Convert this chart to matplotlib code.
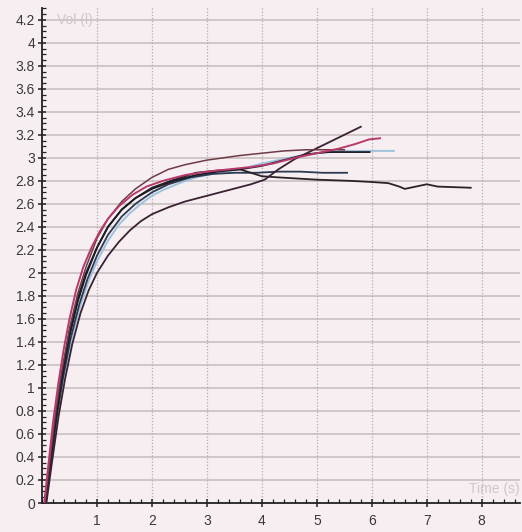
import matplotlib
matplotlib.use("Agg")
import matplotlib.pyplot as plt
from matplotlib.ticker import MultipleLocator

plt.rcParams['font.family'] = ['Liberation Sans', 'DejaVu Sans']

# curves: time (s) / volume (l)
t_magenta = [0.04,0.12,0.2,0.3,0.4,0.5,0.62,0.75,0.9,1.05,1.2,1.4,1.65,1.9,2.2,2.6,3.0,3.4,3.8,4.2,4.6,5.0,5.4,5.7,5.95,6.15]
v_magenta = [0,0.35,0.7,1.05,1.35,1.6,1.85,2.05,2.22,2.36,2.47,2.58,2.68,2.75,2.8,2.85,2.88,2.9,2.92,2.95,3.0,3.04,3.08,3.12,3.16,3.17]

t_brown = [0.05,0.15,0.25,0.35,0.5,0.65,0.8,1.0,1.2,1.45,1.7,2.0,2.3,2.6,3.0,3.3,3.6,4.0,4.4,4.8,5.2,5.5]
v_brown = [0,0.4,0.8,1.12,1.52,1.82,2.05,2.3,2.47,2.62,2.73,2.83,2.9,2.94,2.98,3.0,3.02,3.04,3.06,3.07,3.07,3.07]

t_black = [0.06,0.15,0.25,0.35,0.5,0.65,0.8,1.0,1.2,1.45,1.7,2.0,2.4,2.8,3.2,3.6,4.0,4.4,4.8,5.2,5.6,5.96]
v_black = [0,0.35,0.72,1.05,1.45,1.75,1.98,2.22,2.4,2.55,2.65,2.73,2.8,2.85,2.88,2.9,2.93,2.98,3.03,3.05,3.05,3.05]

t_low = [0.08,0.18,0.3,0.42,0.55,0.7,0.85,1.0,1.2,1.4,1.6,1.8,2.0,2.3,2.6,3.0,3.4,3.8,4.05,4.3,4.6,4.9,5.2,5.5,5.8]
v_low = [0,0.35,0.75,1.08,1.38,1.65,1.85,2.0,2.15,2.27,2.37,2.45,2.51,2.57,2.62,2.67,2.72,2.77,2.81,2.9,2.99,3.06,3.13,3.2,3.27]

t_long = [0.05,0.15,0.25,0.35,0.5,0.65,0.8,1.0,1.2,1.45,1.7,2.0,2.4,2.8,3.2,3.6,4.0,4.3,5.0,5.6,6.0,6.3,6.5,6.6,6.9,7.0,7.2,7.8]
v_long = [0,0.37,0.76,1.1,1.48,1.78,2.0,2.22,2.4,2.55,2.65,2.74,2.81,2.87,2.89,2.9,2.84,2.83,2.81,2.8,2.79,2.78,2.75,2.73,2.76,2.77,2.75,2.74]

t_light = [0.07,0.17,0.28,0.4,0.55,0.7,0.85,1.0,1.2,1.4,1.6,1.8,2.0,2.2,2.5,2.8,3.2,3.6,4.0,4.5,5.0,5.5,6.0,6.4]
v_light = [0,0.38,0.78,1.12,1.45,1.72,1.93,2.1,2.28,2.42,2.52,2.6,2.67,2.72,2.78,2.83,2.87,2.9,2.95,3.0,3.04,3.06,3.06,3.06]

t_navy = [0.06,0.16,0.27,0.38,0.52,0.68,0.83,1.0,1.2,1.45,1.7,2.0,2.3,2.7,3.1,3.5,3.9,4.3,4.7,5.1,5.55]
v_navy = [0,0.36,0.75,1.08,1.43,1.73,1.95,2.15,2.33,2.49,2.6,2.7,2.77,2.83,2.86,2.87,2.87,2.88,2.88,2.87,2.87]

x_ticks = [1, 2, 3, 4, 5, 6, 7, 8]
y_ticks = [0, 0.2, 0.4, 0.6, 0.8, 1, 1.2, 1.4, 1.6, 1.8, 2, 2.2, 2.4, 2.6, 2.8, 3, 3.2, 3.4, 3.6, 3.8, 4, 4.2]
y_labels = ['0','0.2','0.4','0.6','0.8','1','1.2','1.4','1.6','1.8','2','2.2','2.4','2.6','2.8','3','3.2','3.4','3.6','3.8','4','4.2']

bg = '#f6eef1'
fig = plt.figure(figsize=(5.22, 5.32), dpi=100, facecolor=bg)
ax = fig.add_axes([0.0805, 0.0545, 0.915, 0.93], facecolor=bg)
ax.set_xlim(0, 8.69)
ax.set_ylim(0, 4.30)

for y in y_ticks[1:]:
    ax.axhline(y, color='#c9c0c2', lw=1.2, zorder=1)
for x in x_ticks:
    ax.axvline(x, color='#b3acaf', lw=0.9, ls=(0, (1, 1.5)), zorder=1)

curves = [
    (t_light, v_light, '#9fc2de', 1.4),
    (t_navy, v_navy, '#2d3852', 1.3),
    (t_long, v_long, '#2a2228', 1.3),
    (t_black, v_black, '#1c1c22', 1.3),
    (t_low, v_low, '#3a2233', 1.3),
    (t_brown, v_brown, '#6e3a46', 1.1),
    (t_magenta, v_magenta, '#b83a6c', 1.4),
]
for t, v, c, lw in curves:
    ax.plot(t, v, color=c, lw=lw, zorder=3)

ax.spines['top'].set_visible(False)
ax.spines['right'].set_visible(False)
for s in ('left', 'bottom'):
    ax.spines[s].set_color('#222222')
    ax.spines[s].set_linewidth(1.3)

ax.set_xticks(x_ticks)
ax.set_xticklabels([str(x) for x in x_ticks])
ax.set_yticks(y_ticks)
ax.set_yticklabels(y_labels)
ax.xaxis.set_minor_locator(MultipleLocator(0.2))
ax.yaxis.set_minor_locator(MultipleLocator(0.05))
ax.tick_params(axis='both', which='major', labelsize=10, labelcolor='#3a3a3a',
               color='#222222', direction='inout', length=6, width=1.1, pad=2)
ax.tick_params(axis='x', which='major', pad=5)
ax.tick_params(axis='both', which='minor', color='#222222', direction='in', length=3, width=0.9)

ax.text(0.27, 4.2, 'Vol (l)', color='#cfc6cc', fontsize=10, va='center', ha='left')
ax.text(8.69, 0.12, 'Time (s)', color='#cfc6cc', fontsize=10, va='center', ha='right')

fig.savefig('out.png', dpi=100, facecolor=bg)
